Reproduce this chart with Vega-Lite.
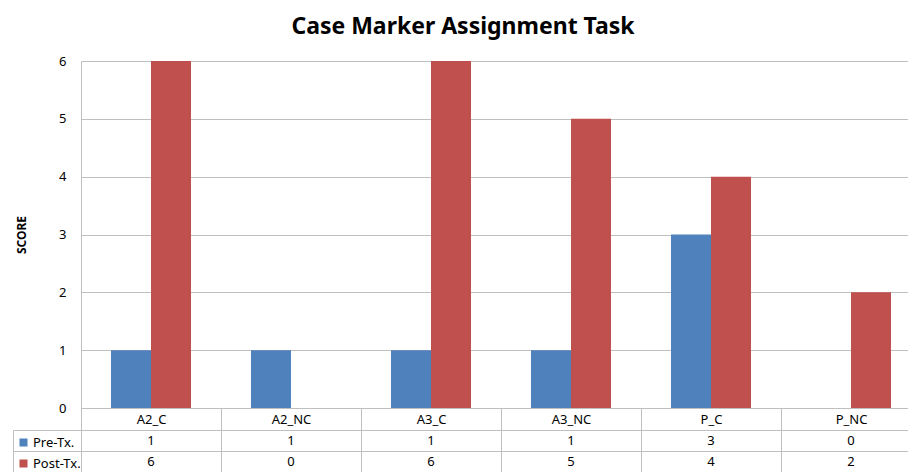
{
  "$schema": "https://vega.github.io/schema/vega-lite/v6.json",
  "padding": {"left": 12, "top": 16, "right": 0, "bottom": 0},
  "bounds": "flush",
  "spacing": 22,
  "background": "white",
  "title": {"text": "Case Marker Assignment Task", "fontSize": 23, "fontWeight": "bold", "font": "Noto Sans", "color": "#000000", "anchor": "middle", "offset": 16, "dx": -4},
  "config": {
    "font": "Noto Sans",
    "view": {"stroke": null},
    "axis": {"labelFont": "Noto Sans", "labelFontSize": 13, "labelColor": "#000000", "gridColor": "#BFBFBF", "domainColor": "#BFBFBF", "tickColor": "#BFBFBF", "titleFont": "Noto Sans"}
  },
  "data": {
    "values": [
      {"cat": "A2_C", "series": "Pre-Tx.", "score": 1},
      {"cat": "A2_C", "series": "Post-Tx.", "score": 6},
      {"cat": "A2_NC", "series": "Pre-Tx.", "score": 1},
      {"cat": "A2_NC", "series": "Post-Tx.", "score": 0},
      {"cat": "A3_C", "series": "Pre-Tx.", "score": 1},
      {"cat": "A3_C", "series": "Post-Tx.", "score": 6},
      {"cat": "A3_NC", "series": "Pre-Tx.", "score": 1},
      {"cat": "A3_NC", "series": "Post-Tx.", "score": 5},
      {"cat": "P_C", "series": "Pre-Tx.", "score": 3},
      {"cat": "P_C", "series": "Post-Tx.", "score": 4},
      {"cat": "P_NC", "series": "Pre-Tx.", "score": 0},
      {"cat": "P_NC", "series": "Post-Tx.", "score": 2}
    ]
  },
  "resolve": {"scale": {"x": "independent", "y": "independent", "color": "independent"}},
  "vconcat": [
    {
      "width": 840,
      "height": 347,
      "mark": {"type": "bar"},
      "encoding": {
        "x": {
          "field": "cat", "type": "nominal",
          "sort": ["A2_C", "A2_NC", "A3_C", "A3_NC", "P_C", "P_NC"],
          "scale": {"paddingInner": 0, "paddingOuter": 0},
          "axis": {"title": null, "labelAngle": 0, "tickBand": "extent", "tickSize": 22, "labelPadding": -17, "grid": false}
        },
        "xOffset": {
          "field": "series", "type": "nominal",
          "sort": ["Pre-Tx.", "Post-Tx."],
          "scale": {"paddingInner": 0, "paddingOuter": 0.75}
        },
        "y": {
          "field": "score", "type": "quantitative",
          "scale": {"domain": [0, 6]},
          "axis": {"title": "SCORE", "titleFontSize": 12, "titleFontWeight": "bold", "titleColor": "#000000", "titlePadding": 30, "values": [0, 1, 2, 3, 4, 5, 6], "grid": true, "ticks": false, "labelPadding": 15}
        },
        "color": {
          "field": "series", "type": "nominal",
          "scale": {"domain": ["Pre-Tx.", "Post-Tx."], "range": ["#4F81BD", "#C0504D"]},
          "legend": {"orient": "none", "legendX": -64, "legendY": 375, "title": null, "symbolType": "square", "symbolSize": 64, "symbolStrokeWidth": 0, "labelFontSize": 13, "labelColor": "#000000", "labelOffset": 3, "rowPadding": 7, "padding": 0}
        }
      }
    },
    {
      "width": 840,
      "height": 42,
      "mark": {"type": "text", "fontSize": 13, "color": "#000000"},
      "encoding": {
        "x": {
          "field": "cat", "type": "nominal",
          "sort": ["A2_C", "A2_NC", "A3_C", "A3_NC", "P_C", "P_NC"],
          "scale": {"paddingInner": 0, "paddingOuter": 0},
          "axis": {"title": null, "labels": false, "ticks": false, "domain": false, "grid": true, "tickBand": "extent"}
        },
        "y": {
          "field": "series", "type": "nominal",
          "sort": ["Pre-Tx.", "Post-Tx."],
          "scale": {"paddingInner": 0, "paddingOuter": 0},
          "axis": {"title": null, "labels": false, "offset": 68, "tickBand": "extent", "tickSize": -68, "grid": true}
        },
        "text": {"field": "score", "type": "quantitative"}
      }
    }
  ]
}
